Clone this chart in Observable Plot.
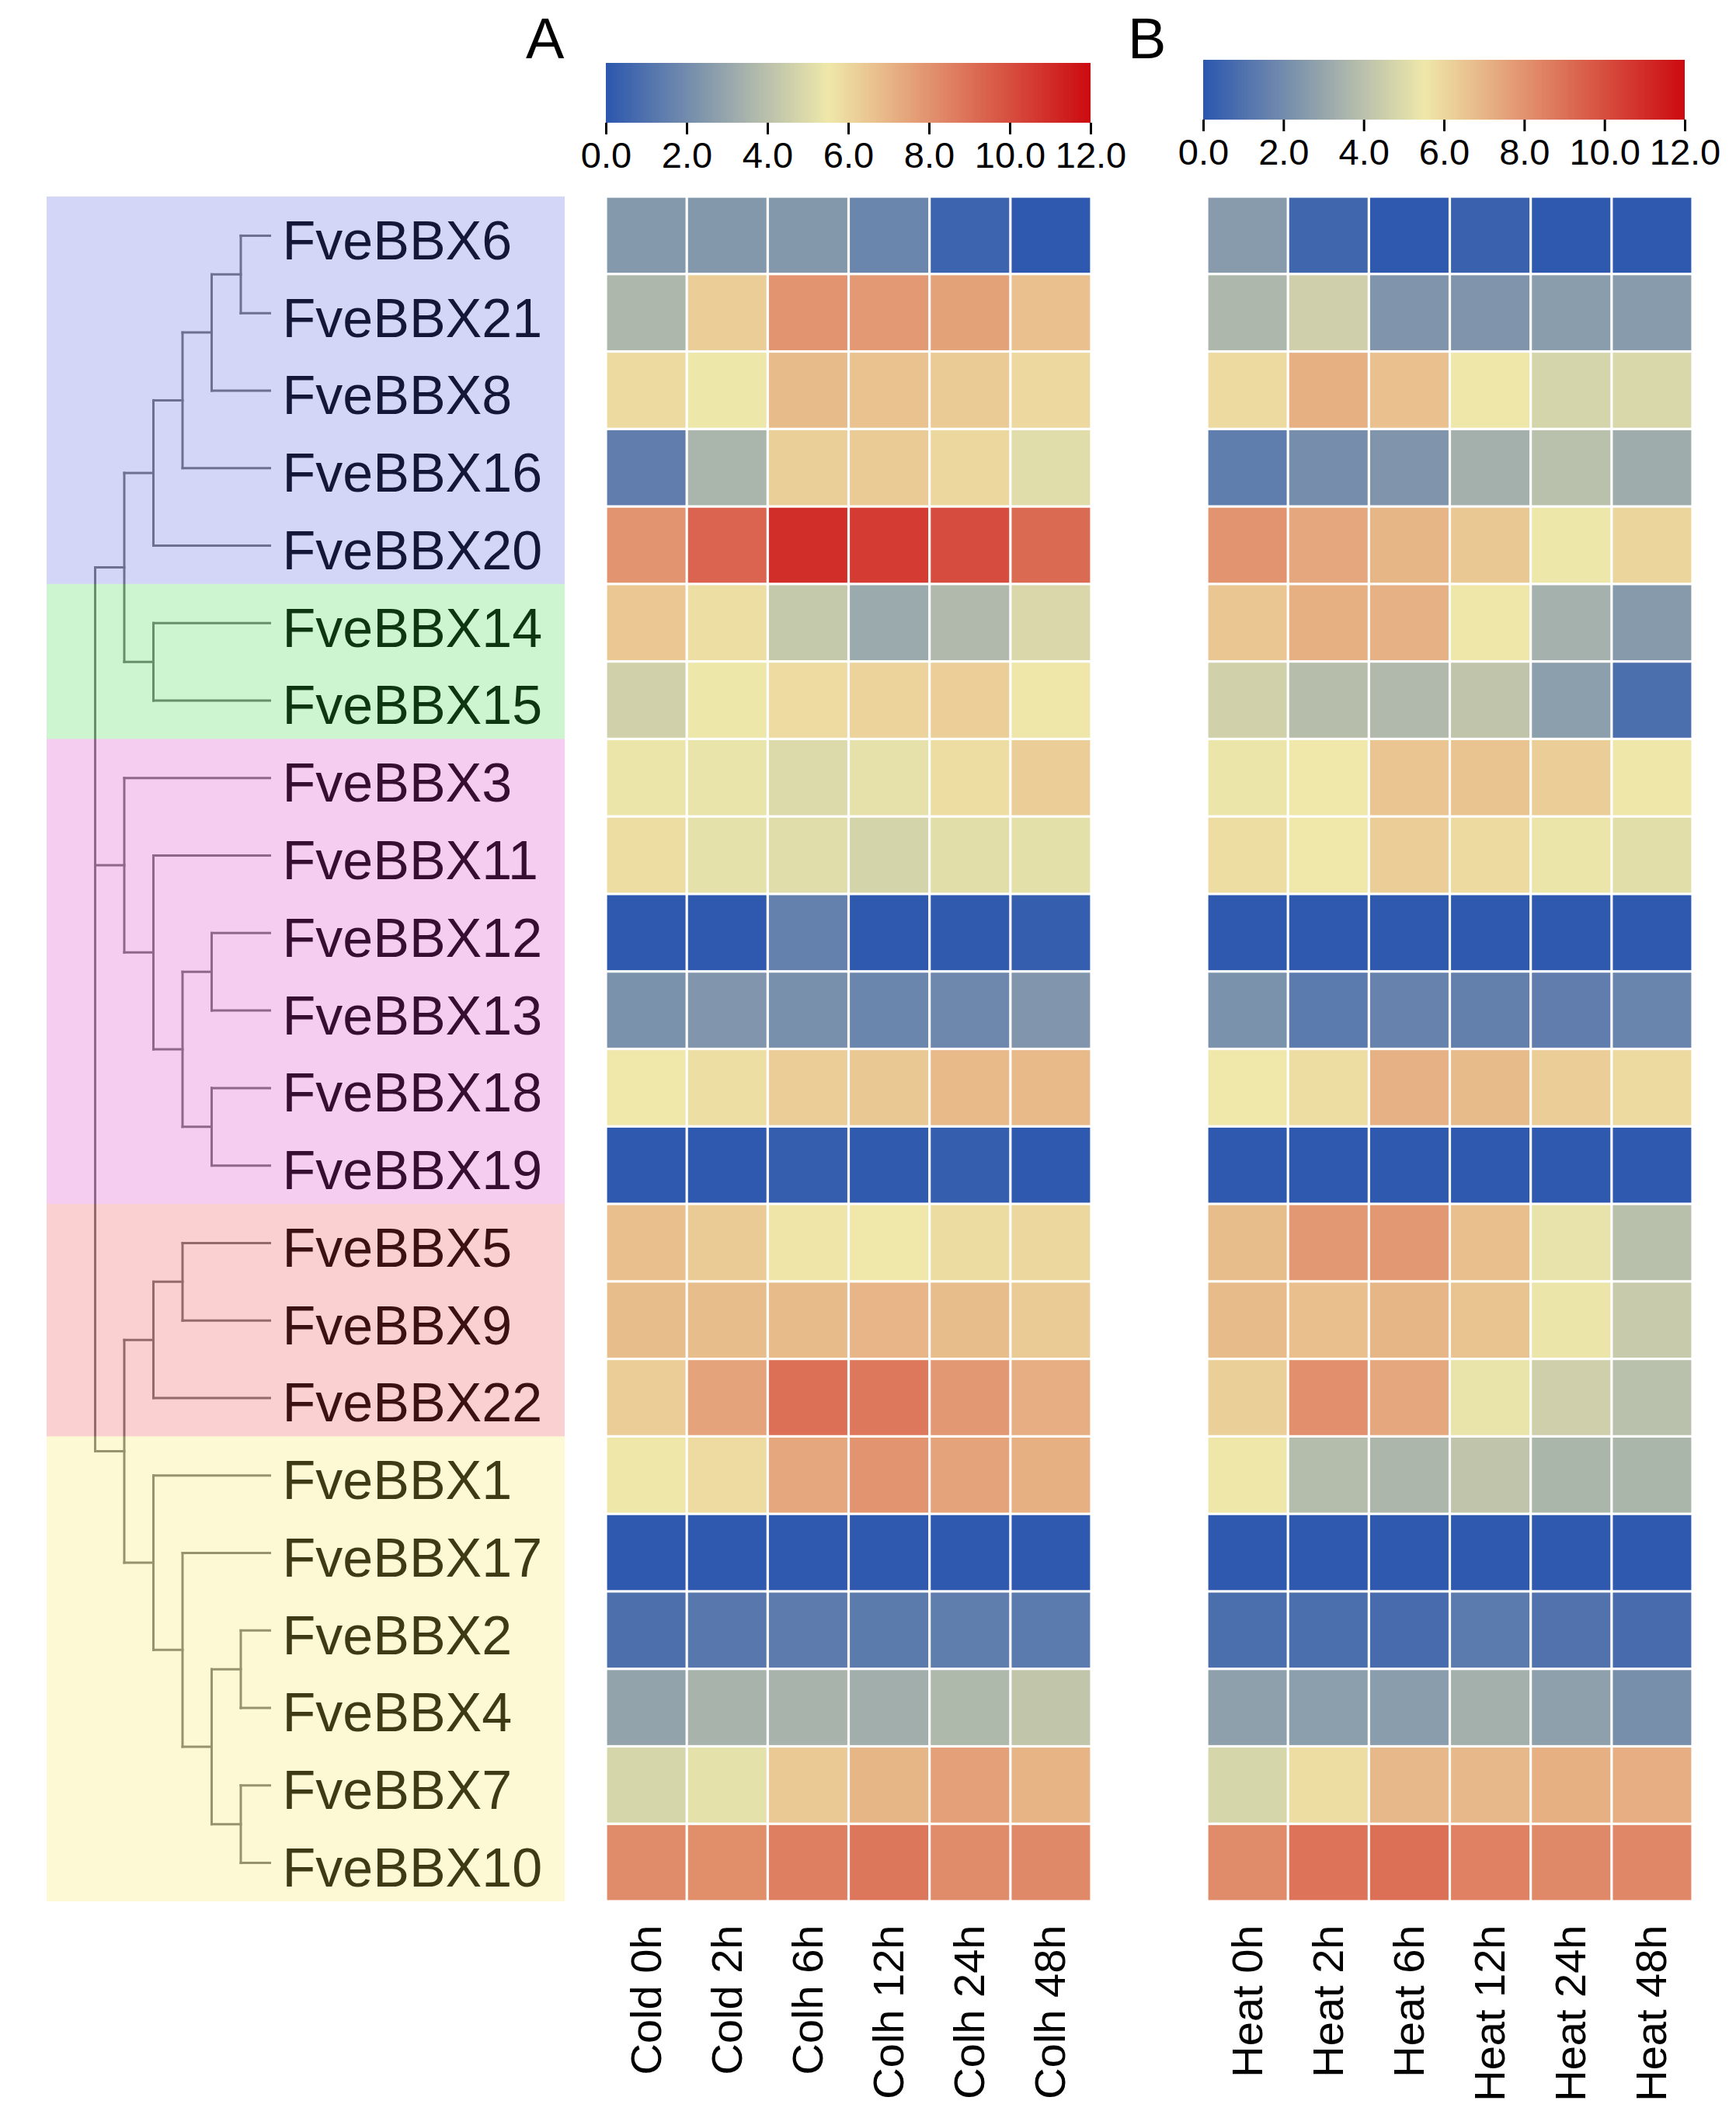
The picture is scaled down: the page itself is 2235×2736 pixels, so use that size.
<!DOCTYPE html>
<html>
<head>
<meta charset="utf-8">
<script src="https://cdn.jsdelivr.net/npm/d3@7"></script>
<script src="https://cdn.jsdelivr.net/npm/@observablehq/plot@0.6"></script>
<style>
  html, body { margin: 0; padding: 0; background: white; }
  #page { position: relative; width: 2235px; height: 2736px; background: white; font-family: "Liberation Sans", Arial, sans-serif; overflow: hidden; }
  .box { position: absolute; }
  .box svg { overflow: visible; background: transparent; }
  .cb line, .cb path { stroke-width: 3px; }
  .panel { position: absolute; font-size: 74px; line-height: 74px; color: #000; }
</style>
</head>
<body>
<div id="page"></div>
<script>
// ---------------- data ----------------
const genes = ["FveBBX6","FveBBX21","FveBBX8","FveBBX16","FveBBX20","FveBBX14","FveBBX15",
  "FveBBX3","FveBBX11","FveBBX12","FveBBX13","FveBBX18","FveBBX19",
  "FveBBX5","FveBBX9","FveBBX22",
  "FveBBX1","FveBBX17","FveBBX2","FveBBX4","FveBBX7","FveBBX10"];
const groups = ["I","I","I","I","I","II","II","III","III","III","III","III","III","IV","IV","IV","V","V","V","V","V","V"];
const groupColors = {I: "#535be3", II: "#37d73f", III: "#d337c3", IV: "#eb4343", V: "#f7e753"};

// dendrogram topology (nested clusters of gene names)
const tree = [
  [[[[["FveBBX6","FveBBX21"],"FveBBX8"],"FveBBX16"],"FveBBX20"], ["FveBBX14","FveBBX15"]],
  ["FveBBX3", ["FveBBX11", [["FveBBX12","FveBBX13"],["FveBBX18","FveBBX19"]]]],
  [[["FveBBX5","FveBBX9"],"FveBBX22"], ["FveBBX1", ["FveBBX17", [["FveBBX2","FveBBX4"],["FveBBX7","FveBBX10"]]]]]
];
const LEAF_DEPTH = 6;

const coldLabels = ["Cold 0h","Cold 2h","Colh 6h","Colh 12h","Colh 24h","Colh 48h"];
const heatLabels = ["Heat 0h","Heat 2h","Heat 6h","Heat 12h","Heat 24h","Heat 48h"];

// expression values, one row per gene (same order as genes)
const coldValues = [
  [2.50, 2.47, 2.47, 1.77, 0.48, 0.06],
  [3.65, 6.29, 7.96, 7.78, 7.55, 6.67],
  [5.91, 5.45, 6.82, 6.61, 6.35, 5.94],
  [1.46, 3.56, 6.23, 6.38, 5.97, 5.08],
  [7.96, 9.36, 10.95, 10.57, 10.07, 9.19],
  [6.47, 5.79, 4.32, 3.14, 3.73, 4.91],
  [4.63, 5.45, 5.88, 6.14, 6.26, 5.56],
  [5.39, 5.33, 4.97, 5.25, 5.82, 6.29],
  [5.82, 5.22, 5.08, 4.74, 5.13, 5.19],
  [0.06, 0.08, 1.57, 0.06, 0.10, 0.28],
  [2.24, 2.39, 2.16, 1.77, 1.82, 2.39],
  [5.50, 5.79, 6.29, 6.44, 6.88, 6.88],
  [0.06, 0.08, 0.28, 0.11, 0.28, 0.06],
  [6.70, 6.38, 5.59, 5.50, 5.85, 6.00],
  [6.76, 6.76, 6.82, 6.99, 6.76, 6.38],
  [6.29, 7.52, 9.01, 8.78, 7.84, 7.20],
  [5.56, 5.88, 7.37, 7.99, 7.52, 7.14],
  [0.06, 0.06, 0.06, 0.06, 0.06, 0.08],
  [0.93, 1.21, 1.37, 1.35, 1.43, 1.32],
  [2.89, 3.48, 3.51, 3.31, 3.68, 4.21],
  [4.80, 5.22, 6.41, 6.96, 7.61, 7.02],
  [8.22, 8.14, 8.57, 8.81, 8.22, 8.28]
];
const heatValues = [
  [2.58, 0.56, 0.08, 0.39, 0.08, 0.06],
  [3.65, 4.60, 2.36, 2.36, 2.64, 2.58],
  [5.91, 7.14, 6.67, 5.56, 4.77, 4.88],
  [1.43, 2.10, 2.36, 3.37, 3.98, 3.23],
  [7.99, 7.37, 6.96, 6.44, 5.48, 6.06],
  [6.50, 7.14, 7.11, 5.56, 3.42, 2.55],
  [4.63, 3.90, 3.73, 4.15, 2.72, 0.87],
  [5.39, 5.50, 6.52, 6.58, 6.29, 5.56],
  [5.82, 5.50, 6.29, 5.91, 5.39, 5.13],
  [0.06, 0.06, 0.06, 0.06, 0.06, 0.06],
  [2.22, 1.32, 1.66, 1.54, 1.46, 1.71],
  [5.50, 5.82, 7.08, 6.82, 6.29, 5.91],
  [0.06, 0.06, 0.06, 0.06, 0.06, 0.06],
  [6.76, 7.84, 7.84, 6.70, 5.30, 3.96],
  [6.82, 6.70, 6.96, 6.58, 5.39, 4.41],
  [6.23, 8.11, 7.37, 5.33, 4.60, 3.98],
  [5.56, 3.84, 3.62, 4.15, 3.59, 3.59],
  [0.06, 0.06, 0.06, 0.06, 0.06, 0.06],
  [0.87, 0.87, 0.76, 1.32, 1.04, 0.76],
  [2.75, 2.72, 2.64, 3.37, 2.75, 2.13],
  [4.80, 5.82, 6.91, 6.91, 7.14, 7.20],
  [8.22, 8.93, 9.01, 8.52, 8.28, 8.34]
];

const colorDomain = [0, 5.5, 12];
const colorRange = ["#2c57ae", "#efe8aa", "#cc0a10"];
const colorTicks = [0, 2, 4, 6, 8, 10, 12];

// ---------------- helpers ----------------
const page = document.getElementById("page");
function place(node, left, top, width, cls) {
  const d = document.createElement("div");
  d.className = "box" + (cls ? " " + cls : "");
  d.style.left = left + "px";
  d.style.top = top + "px";
  d.style.width = width + "px";
  d.appendChild(node);
  page.appendChild(d);
  return d;
}
const font = "Liberation Sans, Arial, sans-serif";
const colorScale = {type: "linear", domain: colorDomain, range: colorRange, interpolate: "rgb", clamp: true};

// ---------------- panel letters ----------------
for (const [t, left] of [["A", 677], ["B", 1452]]) {
  const d = document.createElement("div");
  d.className = "panel";
  d.style.left = left + "px";
  d.style.top = "13px";
  d.textContent = t;
  page.appendChild(d);
}

// ---------------- colour bars ----------------
const step = 0.05;
const steps = d3.range(colorDomain[0], colorDomain[2], step);
function colorBar(barWidth, barHeight) {
  return Plot.plot({
    width: barWidth + 100, height: barHeight + 110,
    marginLeft: 40, marginRight: 60, marginTop: 0, marginBottom: 110,
    style: {fontSize: "47px", fontFamily: font, background: "transparent", overflow: "visible"},
    x: {domain: [colorDomain[0], colorDomain[2]], ticks: colorTicks, tickFormat: d3.format(".1f"),
        tickSize: 15, tickPadding: 9, label: null},
    color: colorScale,
    marks: [
      Plot.rect(steps, {x1: d => d, x2: d => Math.min(d + step * 1.6, colorDomain[2]), fill: d => d + step / 2})
    ]
  });
}
place(colorBar(624, 77), 740, 81, 724, "cb");
place(colorBar(620, 77), 1509, 77, 720, "cb");

// ---------------- heatmaps ----------------
const rowsTop = 253, rowsHeight = 2195;
function heatmap(labels, values) {
  const data = [];
  genes.forEach((g, i) => labels.forEach((c, j) => data.push({gene: g, cond: c, value: values[i][j]})));
  return Plot.plot({
    width: 625, height: rowsHeight + 290,
    marginLeft: 0, marginRight: 0, marginTop: 0, marginBottom: 290,
    style: {fontSize: "56px", fontFamily: font, background: "transparent", overflow: "visible"},
    x: {domain: labels, padding: 0, round: false, tickRotate: -90, tickSize: 0, tickPadding: 30, label: null},
    y: {domain: genes, padding: 0, round: false, axis: null},
    color: colorScale,
    marks: [
      Plot.cell(data, {x: "cond", y: "gene", fill: "value", inset: 1.6})
    ]
  });
}
place(heatmap(coldLabels, coldValues), 780, rowsTop, 625);
place(heatmap(heatLabels, heatValues), 1554, rowsTop, 625);

// ---------------- dendrogram + labels ----------------
const segs = [];
function walk(node, depth) {
  if (typeof node === "string") return {y: genes.indexOf(node), leaf: true};
  const kids = node.map(c => walk(c, depth + 1));
  const ys = kids.map(k => k.y);
  segs.push({x1: depth, x2: depth, y1: d3.min(ys), y2: d3.max(ys)});
  kids.forEach(k => segs.push({x1: depth, x2: k.leaf ? LEAF_DEPTH : depth + 1, y1: k.y, y2: k.y}));
  return {y: (ys[0] + ys[ys.length - 1]) / 2, leaf: false};
}
walk(tree, 0);

const blocks = [];
groups.forEach((g, i) => {
  const last = blocks[blocks.length - 1];
  if (last && last.group === g) last.end = i; else blocks.push({group: g, start: i, end: i});
});

const dendro = Plot.plot({
  width: 667, height: rowsHeight,
  marginLeft: 0, marginRight: 0, marginTop: 0, marginBottom: 0,
  style: {fontFamily: font, background: "transparent", overflow: "visible"},
  x: {domain: [0, LEAF_DEPTH], range: [62, 287], axis: null},
  y: {domain: [-0.5, genes.length - 0.5], reverse: true, axis: null},
  color: {type: "identity"},
  marks: [
    Plot.link(segs, {x1: "x1", y1: "y1", x2: "x2", y2: "y2", stroke: "#777", strokeWidth: 3, strokeLinecap: "square"}),
    Plot.text(genes, {x: () => LEAF_DEPTH, y: (d, i) => i, text: d => d, dx: 16, dy: 8,
      textAnchor: "start", fontSize: 70, fill: "#000"}),
    Plot.rect(blocks, {y1: d => d.start - 0.5, y2: d => d.end + 0.5, fill: d => groupColors[d.group], fillOpacity: 0.25})
  ]
});
place(dendro, 60, rowsTop, 667);
</script>
</body>
</html>
